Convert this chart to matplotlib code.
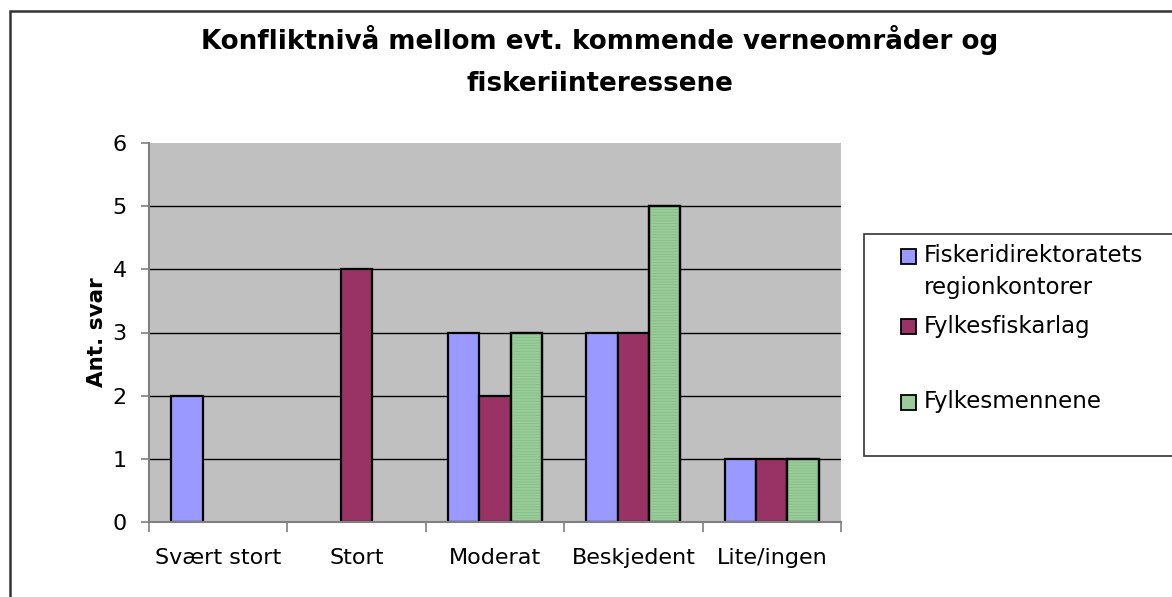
import matplotlib
matplotlib.use("Agg")
import matplotlib.pyplot as plt
from matplotlib.patches import Rectangle
import numpy as np

categories = ["Svært stort", "Stort", "Moderat", "Beskjedent", "Lite/ingen"]
series_names = ["Fiskeridirektoratets\nregionkontorer", "Fylkesfiskarlag", "Fylkesmennene"]
fiskeridir = [2, 0, 3, 3, 1]
fylkesfiskarlag = [0, 4, 2, 3, 1]
fylkesmennene = [0, 0, 3, 5, 1]
yticks = [0, 1, 2, 3, 4, 5, 6]
title_lines = ["Konfliktnivå mellom evt. kommende verneområder og", "fiskeriinteressene"]
ylabel = "Ant. svar"

colors = ["#9999FF", "#993366", "#99CC99"]
W, H = 1172, 597
plt.rcParams["font.family"] = ["DejaVu Sans"]
plt.rcParams["hatch.linewidth"] = 0.6

fig = plt.figure(figsize=(W / 100, H / 100), dpi=100)
fig.patch.set_facecolor("white")


def fx(px):
    return px / W


def fy(py):
    return 1 - py / H


ax = fig.add_axes([fx(149), fy(522), fx(841) - fx(149), fy(143) - fy(522)])
ax.set_facecolor("#C0C0C0")
ax.set_xlim(-0.5, len(categories) - 0.5)
ax.set_ylim(0, 6)

bw = 0.226
x = np.arange(len(categories))
all_series = [fiskeridir, fylkesfiskarlag, fylkesmennene]
for i, vals in enumerate(all_series):
    off = (i - 1) * bw
    xs = [xi + off for xi, v in zip(x, vals) if v > 0]
    hs = [v for v in vals if v > 0]
    ax.bar(xs, hs, width=bw, color=colors[i], edgecolor="black", linewidth=1.6, zorder=3)
    if i == 2:
        ax.bar(xs, hs, width=bw, facecolor="none", edgecolor="#86BF86", linewidth=0,
               hatch="------", zorder=3.5)
        ax.bar(xs, hs, width=bw, facecolor="none", edgecolor="black", linewidth=1.6, zorder=4)

for yv in yticks[1:-1]:
    ax.axhline(yv, color="black", linewidth=1.0, zorder=1)

for s in ["top", "right"]:
    ax.spines[s].set_visible(False)
for s in ["left", "bottom"]:
    ax.spines[s].set_color("#808080")
    ax.spines[s].set_linewidth(1.5)
    ax.spines[s].set_zorder(5)

ax.set_yticks(yticks)
ax.set_yticklabels([str(v) for v in yticks], fontsize=16)
ax.tick_params(axis="y", length=6, width=1.2, color="#808080", pad=10)

ax.set_xticks(x)
ax.set_xticklabels(categories, fontsize=16)
ax.set_xticks(np.arange(len(categories) + 1) - 0.5, minor=True)
ax.tick_params(axis="x", which="major", length=0, pad=19)
ax.tick_params(axis="x", which="minor", length=7, width=1.2, color="#808080")

ax.set_ylabel(ylabel, fontsize=15.5, fontweight="bold", labelpad=4)

# Title
fig.text(fx(600), fy(49), title_lines[0], ha="center", va="baseline",
         fontsize=18.8, fontweight="bold")
fig.text(fx(600), fy(91), title_lines[1], ha="center", va="baseline",
         fontsize=18.8, fontweight="bold")

# Outer chart border
fig.add_artist(Rectangle((fx(10), fy(H + 20)), fx(W + 20) - fx(10), fy(11) - fy(H + 20),
                         transform=fig.transFigure, facecolor="none", edgecolor="#333333",
                         linewidth=1.8, clip_on=False))

# Legend
fig.add_artist(Rectangle((fx(864), fy(456)), fx(W + 20) - fx(864), fy(234) - fy(456),
                         transform=fig.transFigure, facecolor="white", edgecolor="#333333",
                         linewidth=1.2))
marker_tops = [249, 319, 395]
text_baselines = [262, 333, 408]
for i, name in enumerate(series_names):
    fig.add_artist(Rectangle((fx(901), fy(marker_tops[i] + 15)), fx(15), fy(0) - fy(15),
                             transform=fig.transFigure, facecolor=colors[i],
                             edgecolor="black", linewidth=1.3))
    lines = name.split("\n")
    for j, ln in enumerate(lines):
        fig.text(fx(924), fy(text_baselines[i] + 32 * j), ln, ha="left", va="baseline",
                 fontsize=16.5)

fig.savefig("out.png", dpi=100, facecolor="white")
